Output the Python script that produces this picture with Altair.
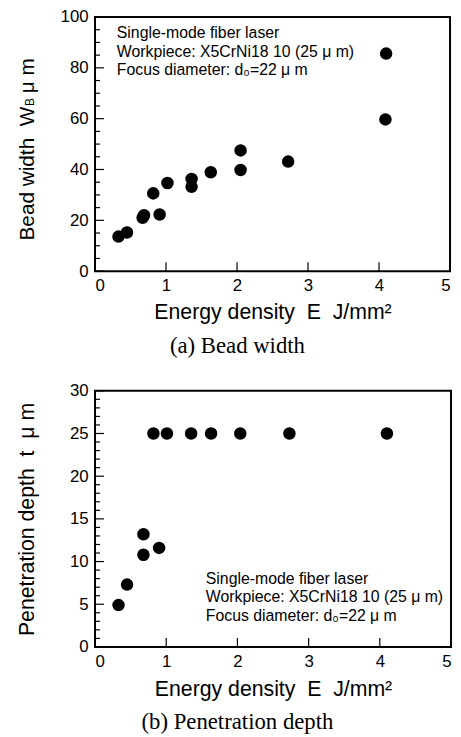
import altair as alt
import pandas as pd

# ---------------- data ----------------
# (a) Bead width
a_energy = [0.33, 0.45, 0.67, 0.69, 0.82, 0.91, 1.02, 1.36, 1.36, 1.63, 2.05, 2.05, 2.72, 4.09, 4.10]
a_width = [13.6, 15.2, 21.0, 22.0, 30.6, 22.3, 34.7, 36.3, 33.2, 38.9, 47.5, 39.8, 43.1, 59.7, 85.6]

# (b) Penetration depth
b_energy = [0.33, 0.45, 0.68, 0.68, 0.90, 0.82, 1.01, 1.35, 1.63, 2.04, 2.73, 4.10]
b_depth = [4.9, 7.3, 13.2, 10.8, 11.6, 25.0, 25.0, 25.0, 25.0, 25.0, 25.0, 25.0]

x_ticks = [0, 1, 2, 3, 4, 5]
a_y_major = [0, 20, 40, 60, 80, 100]
a_y_minor = [5, 10, 15, 25, 30, 35, 45, 50, 55, 65, 70, 75, 85, 90, 95]
b_y_major = [0, 5, 10, 15, 20, 25, 30]
b_y_minor = [1, 2, 3, 4, 6, 7, 8, 9, 11, 12, 13, 14, 16, 17, 18, 19,
             21, 22, 23, 24, 26, 27, 28, 29]

annot_lines = ["Single-mode fiber laser",
               "Workpiece: X5CrNi18 10 (25 μ m)",
               "Focus diameter: d₀=22 μ m"]

x_title = "Energy\u00a0density\u00a0\u00a0E\u00a0\u00a0J/mm²"
a_caption = "(a) Bead width"
b_caption = "(b) Penetration depth"

SANS = "Liberation Sans"
SERIF = "Liberation Serif"
ONE = pd.DataFrame({"k": [0]})


def panel(energy, vals, ymax, y_major, y_minor, W, H, annot_x, annot_y,
          title_pieces, title_x, caption, title_pad, caption_y):
    df = pd.DataFrame({"E": energy, "v": vals})
    xs = alt.Scale(domain=[0, 5], nice=False, zero=False)
    ys = alt.Scale(domain=[0, ymax], nice=False, zero=False)
    x_axis = alt.Axis(values=x_ticks, ticks=False, domain=False, grid=False,
                      labelPadding=7, format="d", title=x_title,
                      titleFontSize=21.5, titleFontWeight="normal", titlePadding=title_pad)
    y_axis = alt.Axis(values=y_major, ticks=False, domain=False, grid=False,
                      labelPadding=7, format="d", title=None)

    points = alt.Chart(df).mark_circle(size=160, color="black", opacity=1).encode(
        x=alt.X("E:Q", scale=xs, axis=x_axis),
        y=alt.Y("v:Q", scale=ys, axis=y_axis),
    )

    ymaj = alt.Chart(pd.DataFrame({"v": y_major})).mark_rule(color="black", strokeWidth=1.2).encode(
        y=alt.Y("v:Q", scale=ys, axis=y_axis), x=alt.value(0), x2=alt.value(9))
    ymin = alt.Chart(pd.DataFrame({"v": y_minor})).mark_rule(color="black", strokeWidth=1.2).encode(
        y=alt.Y("v:Q", scale=ys, axis=y_axis), x=alt.value(0), x2=alt.value(5))
    xmaj = alt.Chart(pd.DataFrame({"E": x_ticks})).mark_rule(color="black", strokeWidth=1.2).encode(
        x=alt.X("E:Q", scale=xs, axis=x_axis), y=alt.value(H), y2=alt.value(H - 9))

    annot = alt.Chart(ONE).mark_text(
        align="left", baseline="top", font=SANS, fontSize=16,
        lineHeight=19, color="black").encode(
        text=alt.value(annot_lines), x=alt.value(annot_x), y=alt.value(annot_y))

    layers = [points, ymaj, ymin, xmaj, annot]
    for txt, fs, ypos in title_pieces:
        layers.append(alt.Chart(ONE).mark_text(
            angle=270, align="left", baseline="alphabetic", font=SANS,
            fontSize=fs, color="black").encode(
            text=alt.value(txt), x=alt.value(title_x), y=alt.value(ypos)))

    layers.append(alt.Chart(ONE).mark_text(
        align="center", baseline="alphabetic", font=SERIF, fontSize=23,
        color="black").encode(
        text=alt.value(caption), x=alt.value(144), y=alt.value(caption_y)))

    return alt.layer(*layers).properties(width=W, height=H)


top = panel(a_energy, a_width, 100, a_y_major, a_y_minor, 359, 257,
            22, 8,
            [("Bead\u00a0width\u00a0\u00a0W", 21, 226), ("B", 12, 90),
             ("μ\u00a0m", 21, 77)],
            -62, a_caption, 8, 340)

bottom = panel(b_energy, b_depth, 30, b_y_major, b_y_minor, 360, 259,
               112, 182,
               [("Penetration\u00a0depth\u00a0\u00a0t\u00a0\u00a0μ\u00a0m", 21.5, 248)],
               -62, b_caption, 9, 342)

chart = alt.vconcat(top, bottom, spacing=22).properties(
    padding={"top": -5, "left": 7, "right": 0, "bottom": 0}
).configure_axis(
    labelFont=SANS, labelFontSize=17, labelColor="black",
    titleFont=SANS, titleColor="black"
).configure_view(stroke="black", strokeWidth=2)

chart.save("out.html", embed_options={"renderer": "svg", "actions": False})
